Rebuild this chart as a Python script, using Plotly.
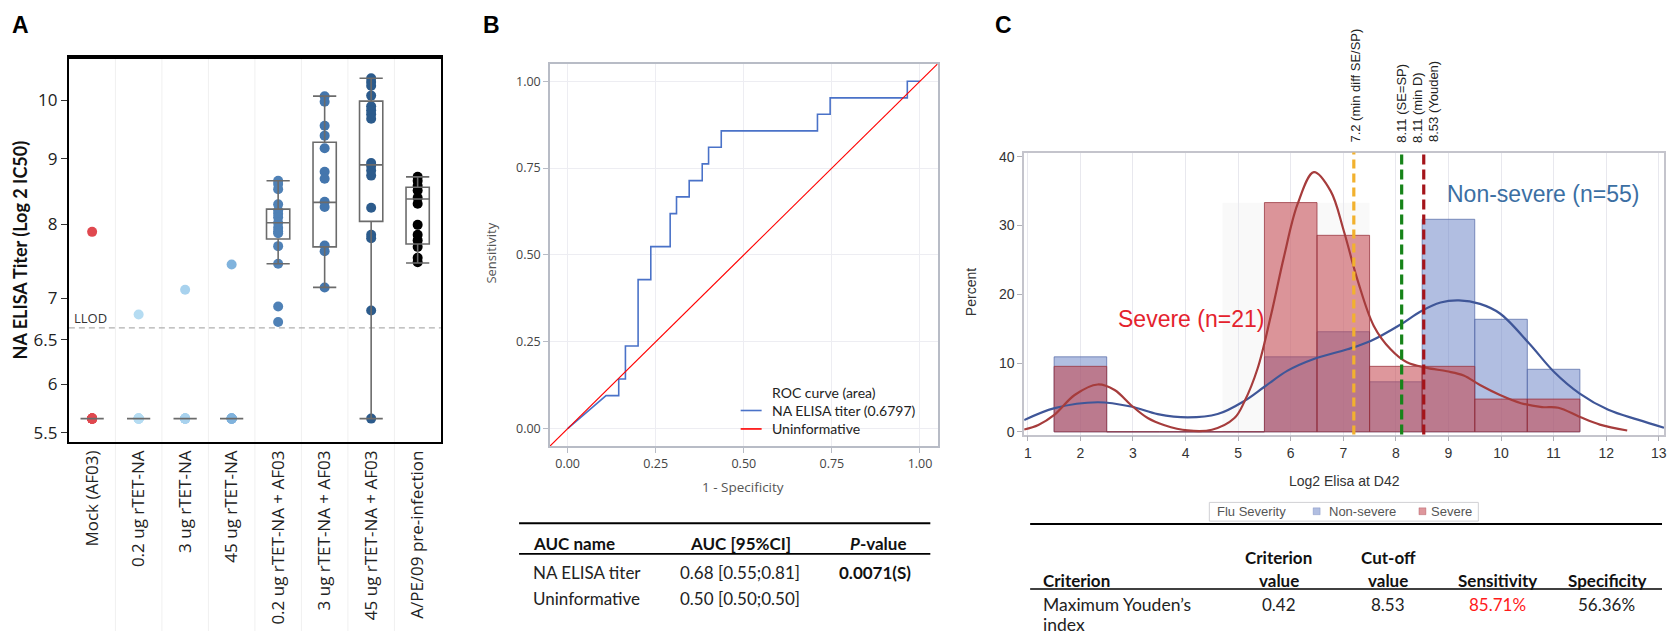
import math
import plotly.graph_objects as go

W, H = 1671, 640
def px(x): return x / W
def py(y): return 1 - y / H

# ---------------- Panel A data ----------------
groups = ["Mock (AF03)", "0.2 ug rTET-NA", "3 ug rTET-NA", "45 ug rTET-NA",
          "0.2 ug rTET-NA + AF03", "3 ug rTET-NA + AF03", "45 ug rTET-NA + AF03",
          "A/PE/09 pre-infection"]
pts_mock = [7.89, 5.64, 5.64, 5.64, 5.64, 5.64, 5.64, 5.64, 5.64]
pts_02 = [6.80, 5.64, 5.64, 5.64, 5.64, 5.64, 5.64, 5.64]
pts_3 = [7.11, 5.64, 5.64, 5.64, 5.64, 5.64, 5.64, 5.64]
pts_45 = [7.44, 5.64, 5.64, 5.64, 5.64, 5.64, 5.64, 5.64]
pts_02af = [8.65, 8.60, 8.52, 8.29, 8.20, 8.15, 8.10, 8.02, 7.95, 7.90, 7.87, 7.69, 7.45, 6.90, 6.71]
pts_3af = [10.07, 9.97, 9.55, 9.38, 9.17, 8.79, 8.68, 8.33, 8.25, 7.70, 7.62, 7.14]
pts_45af = [10.40, 10.33, 10.26, 10.08, 9.89, 9.82, 9.75, 9.67, 8.93, 8.88, 8.81, 8.73,
            8.24, 7.85, 7.80, 6.85, 5.64]
pts_pe = [8.71, 8.65, 8.57, 8.50, 8.39, 8.30, 7.99, 7.85, 7.77, 7.68, 7.53, 7.47]
group_points = [pts_mock, pts_02, pts_3, pts_45, pts_02af, pts_3af, pts_45af, pts_pe]
group_colors = ["#e0484f", "#b5dcf2", "#a8d2ee", "#80b3dd", "#4f81b6", "#4476ad", "#2c5b8c", "#000000"]

box_low = [5.64, 5.64, 5.64, 5.64, 7.45, 7.14, 5.64, 7.46]
box_q1 = [5.64, 5.64, 5.64, 5.64, 7.79, 7.68, 8.04, 7.72]
box_median = [5.64, 5.64, 5.64, 5.64, 8.02, 8.32, 8.90, 8.37]
box_q3 = [5.64, 5.64, 5.64, 5.64, 8.22, 9.27, 9.98, 8.55]
box_high = [5.64, 5.64, 5.64, 5.64, 8.65, 10.07, 10.40, 8.71]
llod = 6.64
a_ticks = [5.5, 6, 6.5, 7, 8, 9, 10]
a_ticktext = ["5.5", "6", "6.5", "7", "8", "9", "10"]

# ---------------- Panel B data ----------------
roc_fpr = [0, 0.109, 0.145, 0.145, 0.164, 0.164, 0.200, 0.200, 0.236, 0.236, 0.291, 0.291,
           0.309, 0.309, 0.345, 0.345, 0.382, 0.382, 0.400, 0.400, 0.436, 0.436, 0.709,
           0.709, 0.745, 0.745, 0.964, 0.964, 1.0]
roc_tpr = [0, 0.095, 0.095, 0.143, 0.143, 0.238, 0.238, 0.429, 0.429, 0.524, 0.524, 0.619,
           0.619, 0.667, 0.667, 0.714, 0.714, 0.762, 0.762, 0.810, 0.810, 0.857, 0.857,
           0.905, 0.905, 0.952, 0.952, 1.0, 1.0]
diag = [-0.05, 1.05]
b_ticks = [0, 0.25, 0.5, 0.75, 1.0]

# ---------------- Panel C data ----------------
bins = [2, 3, 4, 5, 6, 7, 8, 9, 10, 11]
pct_nonsevere = [10.9, 0, 0, 0, 10.9, 14.55, 7.27, 30.9, 16.36, 9.09]
pct_severe = [9.52, 0, 0, 0, 33.33, 28.57, 9.52, 9.52, 4.76, 4.76]
dens_sev_x = [0.93, 1.2, 1.51, 1.89, 2.33, 2.65, 2.96, 3.28, 3.6, 4.04, 4.5, 4.93, 5.12, 5.37,
              5.62, 5.87, 6.13, 6.44, 6.76, 7.01, 7.27, 7.58, 7.9, 8.21, 8.59, 8.97, 9.29,
              9.6, 9.98, 10.38, 10.78, 11.09, 11.49, 11.88, 12.4]
dens_sev_y = [0.33, 1.0, 2.5, 5.35, 6.88, 6.07, 3.9, 2.0, 0.96, 0.2, 0.3, 2.0, 4.4, 9.2,
              16.8, 25.4, 33.1, 37.75, 35.0, 29.2, 22.1, 15.4, 12.0, 10.1, 9.3, 8.8, 8.2,
              6.8, 5.35, 4.16, 3.6, 3.5, 2.2, 1.05, 0.19]
dens_non_x = [0.93, 1.51, 2.33, 2.96, 3.47, 4.04, 4.61, 5.12, 5.5, 5.94, 6.44, 7.08, 7.52,
              8.09, 8.47, 8.85, 9.2, 9.6, 9.98, 10.54, 11.01, 11.49, 12.04, 12.6, 13.1]
dens_non_y = [1.7, 3.44, 4.3, 3.68, 2.58, 2.1, 2.58, 4.5, 6.55, 8.9, 10.6, 12.0, 13.2,
              15.6, 17.5, 18.8, 19.1, 18.6, 17.2, 12.8, 8.7, 5.6, 3.2, 1.77, 0.6]
cutoffs = [7.2, 8.11, 8.53]
cutoff_colors = ["#f2b12e", "#17841a", "#a4141a"]
cutoff_labels = ["7.2 (min diff SE/SP)", "8.11 (SE=SP)", "8.11 (min D)", "8.53 (Youden)"]

# Tables
auc_header = ["AUC name", "AUC [95%CI]", "<i>P</i>-value"]
auc_rows = [["NA ELISA titer", "0.68 [0.55;0.81]", "<b>0.0071(S)</b>"],
            ["Uninformative", "0.50 [0.50;0.50]", ""]]
crit_row = ["0.42", "8.53", "85.71%", "56.36%"]

BLUE_FILL = "rgba(100,125,195,0.5)"
RED_FILL = "rgba(195,65,75,0.55)"

fig = go.Figure()

# ---- Panel A traces ----
fig.add_trace(go.Scatter(x=[-0.5, 7.5], y=[llod, llod], mode="lines",
                         line=dict(color="#b0b0b0", width=1.3, dash="6px,4px"),
                         xaxis="x", yaxis="y", showlegend=False, hoverinfo="skip"))
for i, (pts, col) in enumerate(zip(group_points, group_colors)):
    fig.add_trace(go.Scatter(x=[i] * len(pts), y=pts, mode="markers",
                             marker=dict(color=col, size=10, line=dict(width=0)),
                             xaxis="x", yaxis="y", showlegend=False))
fig.add_trace(go.Box(x=list(range(len(groups))), q1=box_q1, median=box_median, q3=box_q3,
                     lowerfence=box_low, upperfence=box_high, boxpoints=False,
                     width=0.5, whiskerwidth=1, fillcolor="rgba(0,0,0,0)",
                     line=dict(color="#6b6b6b", width=1.6),
                     xaxis="x", yaxis="y2", showlegend=False))

# ---- Panel B traces ----
fig.add_trace(go.Scatter(x=roc_fpr, y=roc_tpr, mode="lines",
                         line=dict(color="#4a72c8", width=1.6),
                         xaxis="x2", yaxis="y3", showlegend=False))
fig.add_trace(go.Scatter(x=diag, y=diag, mode="lines",
                         line=dict(color="#ff0000", width=1.2),
                         xaxis="x2", yaxis="y3", showlegend=False))

# ---- Panel C traces ----
fig.add_trace(go.Bar(x=bins, y=pct_nonsevere, width=1, marker=dict(color=BLUE_FILL,
                     line=dict(color="rgba(90,110,170,0.75)", width=1)),
                     xaxis="x3", yaxis="y4", showlegend=False))
fig.add_trace(go.Bar(x=bins, y=pct_severe, width=1, marker=dict(color=RED_FILL,
                     line=dict(color="rgba(150,50,60,0.75)", width=1)),
                     xaxis="x3", yaxis="y4", showlegend=False))
fig.add_trace(go.Scatter(x=dens_non_x, y=dens_non_y, mode="lines",
                         line=dict(color="#3f5698", width=2.2, shape="spline", smoothing=1),
                         xaxis="x3", yaxis="y4", showlegend=False))
fig.add_trace(go.Scatter(x=dens_sev_x, y=dens_sev_y, mode="lines",
                         line=dict(color="#a63c3c", width=2.2, shape="spline", smoothing=1),
                         xaxis="x3", yaxis="y4", showlegend=False))

a_range = [math.log10(5.41), math.log10(10.80)]
tickfontA = dict(family="Open Sans", size=17, color="#222")
fig.update_layout(
    width=W, height=H, margin=dict(l=0, r=0, t=0, b=0),
    paper_bgcolor="white", plot_bgcolor="white", barmode="overlay",
    font=dict(family="Open Sans", color="#333"),
    xaxis=dict(domain=[px(69), px(441.7)], range=[-0.5, 7.5], anchor="y",
               tickvals=list(range(len(groups))), ticktext=groups, tickangle=-90,
               tickfont=tickfontA, showline=True, mirror=True, linecolor="black",
               linewidth=2, showgrid=False, zeroline=False, ticks=""),
    yaxis=dict(domain=[py(444), py(54)], type="log", range=a_range, anchor="x",
               tickvals=a_ticks, ticktext=a_ticktext, tickfont=tickfontA,
               ticks="outside", ticklen=6, tickcolor="#333", showline=True, mirror=True,
               linecolor="black", linewidth=2, showgrid=False, zeroline=False),
    yaxis2=dict(overlaying="y", type="log", range=a_range, anchor="x", visible=False),
    xaxis2=dict(domain=[px(551), px(939.3)], range=[-0.05, 1.05], anchor="y3",
                tickvals=b_ticks, tickformat=".2f",
                tickfont=dict(family="Open Sans", size=12.5, color="#444"),
                ticks="outside", ticklen=5, tickcolor="#b8bcc6",
                showline=True, mirror=True, linecolor="#b8bcc6", linewidth=1.5,
                showgrid=True, gridcolor="#ededf2", zeroline=False),
    yaxis3=dict(domain=[py(448.3), py(60.7)], range=[-0.05, 1.05], anchor="x2",
                tickvals=b_ticks, tickformat=".2f",
                tickfont=dict(family="Open Sans", size=12.5, color="#444"),
                ticks="outside", ticklen=5, tickcolor="#b8bcc6",
                showline=True, mirror=True, linecolor="#b8bcc6", linewidth=1.5,
                showgrid=True, gridcolor="#ededf2", zeroline=False),
    xaxis3=dict(domain=[px(1026), px(1667)], range=[0.93, 13.1], anchor="y4",
                dtick=1, tick0=1, tickfont=dict(family="Liberation Sans", size=14, color="#333"),
                ticks="outside", ticklen=5, tickcolor="#b0b0b8",
                showline=True, mirror=True, linecolor="#c4c4cc", linewidth=1.5,
                showgrid=True, gridcolor="#e8e8ee", zeroline=False),
    yaxis4=dict(domain=[py(436.7), py(150.7)], range=[-0.4, 40.6], anchor="x3",
                tickvals=[0, 10, 20, 30, 40],
                tickfont=dict(family="Liberation Sans", size=14, color="#333"),
                ticks="outside", ticklen=5, tickcolor="#b0b0b8",
                showline=True, mirror=True, linecolor="#c4c4cc", linewidth=1.5,
                showgrid=False, zeroline=False),
)

shapes = []
# panel A vertical separators
for b in [0.5, 1.5, 2.5, 3.5, 4.5, 5.5, 6.5]:
    shapes.append(dict(type="line", xref="x", yref="paper", x0=b, x1=b, y0=py(636), y1=py(55),
                       line=dict(color="#f0f0f0", width=1), layer="below"))
# panel A heavier top frame
shapes.append(dict(type="line", xref="paper", yref="paper", x0=px(68), x1=px(442.7),
                   y0=py(54.2), y1=py(54.2), line=dict(color="black", width=3)))
# panel C faint shading
shapes.append(dict(type="rect", xref="x3", yref="y4", x0=4.7, x1=7.5, y0=0, y1=33.3,
                   fillcolor="rgba(0,0,0,0.025)", line=dict(width=0), layer="below"))
# panel C cutoff lines
dashes = ["9px,5px", "10px,5px", "10px,5px"]
for c, col, d in zip(cutoffs, cutoff_colors, dashes):
    shapes.append(dict(type="line", xref="x3", yref="y4 domain", x0=c, x1=c, y0=0, y1=1,
                       line=dict(color=col, width=3.2, dash=d)))
# panel B legend lines
shapes.append(dict(type="line", xref="paper", yref="paper", x0=px(742), x1=px(763),
                   y0=py(412.3), y1=py(412.3), line=dict(color="#4a72c8", width=1.6)))
shapes.append(dict(type="line", xref="paper", yref="paper", x0=px(742), x1=px(763),
                   y0=py(431), y1=py(431), line=dict(color="#ff0000", width=1.6)))
# panel C legend box and swatches
shapes.append(dict(type="rect", xref="paper", yref="paper", x0=px(1211.5), x1=px(1481),
                   y0=py(524.5), y1=py(505.5), line=dict(color="#d0d0d4", width=1),
                   fillcolor="white"))
shapes.append(dict(type="rect", xref="paper", yref="paper", x0=px(1315.5), x1=px(1322.5),
                   y0=py(518), y1=py(511), line=dict(color="rgba(90,110,170,0.6)", width=0.5),
                   fillcolor=BLUE_FILL))
shapes.append(dict(type="rect", xref="paper", yref="paper", x0=px(1421.5), x1=px(1428.5),
                   y0=py(518), y1=py(511), line=dict(color="rgba(150,50,60,0.6)", width=0.5),
                   fillcolor=RED_FILL))
# table rules
shapes.append(dict(type="line", xref="paper", yref="paper", x0=px(520), x1=px(932),
                   y0=py(526.7), y1=py(526.7), line=dict(color="black", width=2)))
shapes.append(dict(type="line", xref="paper", yref="paper", x0=px(520), x1=px(932),
                   y0=py(557.7), y1=py(557.7), line=dict(color="black", width=1.6)))
shapes.append(dict(type="line", xref="paper", yref="paper", x0=px(1032), x1=px(1665),
                   y0=py(527.3), y1=py(527.3), line=dict(color="black", width=2)))
shapes.append(dict(type="line", xref="paper", yref="paper", x0=px(1032), x1=px(1665),
                   y0=py(593.3), y1=py(593.3), line=dict(color="black", width=1.6)))

ann = []
def A(text, x, y, size, color="#222", family="Open Sans", xanchor="left", yanchor="middle",
      angle=0, bold=False):
    if bold:
        text = "<b>" + text + "</b>"
    ann.append(dict(text=text, x=px(x), y=py(y), xref="paper", yref="paper", showarrow=False,
                    xanchor=xanchor, yanchor=yanchor, textangle=angle,
                    font=dict(size=size, color=color, family=family)))

# panel letters
A("A", 20.7, 21, 23, "black", "Liberation Sans", "center", bold=True)
A("B", 492, 21, 23, "black", "Liberation Sans", "center", bold=True)
A("C", 1005, 21, 23, "black", "Liberation Sans", "center", bold=True)

# Panel A text
A("NA ELISA Titer (Log 2 IC50)", 21, 249, 18, "#111", "Lato", "center", angle=-90, bold=True)
A("LLOD", 72, 318.5, 13, "#333", "Open Sans", "left")

# Panel B axis titles and legend
A("Sensitivity", 492, 253, 13, "#555", "Open Sans", "center", angle=-90)
A("1 - Specificity", 744.3, 490, 13.5, "#555", "Open Sans", "center")
A("ROC curve (area)", 771, 394, 14, "#222", "Lato", "left")
A("NA ELISA titer (0.6797)", 771, 412.3, 14, "#222", "Lato", "left")
A("Uninformative", 771, 431, 14, "#222", "Lato", "left")

# Panel B table
A(auc_header[0], 531.7, 546.7, 17, "#111", "Lato", "left", bold=True)
A(auc_header[1], 741.7, 546.7, 17, "#111", "Lato", "center", bold=True)
A(auc_header[2], 880, 546.7, 17, "#111", "Lato", "center", bold=True)
for r, yy in zip(auc_rows, [576.7, 602.7]):
    A(r[0], 531.7, yy, 17, "#222", "Lato", "left")
    A(r[1], 741.7, yy, 17, "#222", "Lato", "center")
    if r[2]:
        A(r[2], 877, yy, 17, "#111", "Lato", "center")

# Panel C texts
A("Percent", 973, 292, 14, "#333", "Liberation Sans", "center", angle=-90)
A("Log2 Elisa at D42", 1347, 483.3, 14, "#333", "Liberation Sans", "center")
A("Severe (n=21)", 1118, 319, 23, "#e4222d", "Liberation Sans", "left")
A("Non-severe (n=55)", 1448, 193, 23, "#3b6fa3", "Liberation Sans", "left")
label_x = [1357.5, 1404.3, 1420.5, 1436.6]
for t, lx in zip(cutoff_labels, label_x):
    A(t, lx, 142.5, 13, "#222", "Liberation Sans", "center", "bottom", angle=-90)
A("Flu Severity", 1217.5, 515, 13, "#555", "Liberation Sans", "left")
A("Non-severe", 1329.5, 515, 13, "#555", "Liberation Sans", "left")
A("Severe", 1432, 515, 13, "#555", "Liberation Sans", "left")

# Panel C table
A("Criterion", 1043, 584.3, 17, "#111", "Lato", "left", bold=True)
A("Criterion", 1281, 561.7, 17, "#111", "Lato", "center", bold=True)
A("value", 1281, 584.3, 17, "#111", "Lato", "center", bold=True)
A("Cut-off", 1390.5, 561.7, 17, "#111", "Lato", "center", bold=True)
A("value", 1390.5, 584.3, 17, "#111", "Lato", "center", bold=True)
A("Sensitivity", 1500, 584.3, 17, "#111", "Lato", "center", bold=True)
A("Specificity", 1609.6, 584.3, 17, "#111", "Lato", "center", bold=True)
A("Maximum Youden’s", 1043, 609, 17.5, "#222", "Lato", "left")
A("index", 1043, 629.5, 17.5, "#222", "Lato", "left")
for v, cx, col in zip(crit_row, [1281, 1390.5, 1500, 1609.6], ["#222", "#222", "#ff1a1a", "#222"]):
    A(v, cx, 609, 17, col, "Lato", "center")

fig.update_layout(shapes=shapes, annotations=ann)
fig.write_html("out.html", config={"displayModeBar": False},
               post_script="document.body.style.margin='0px';document.body.style.overflow='hidden';")
